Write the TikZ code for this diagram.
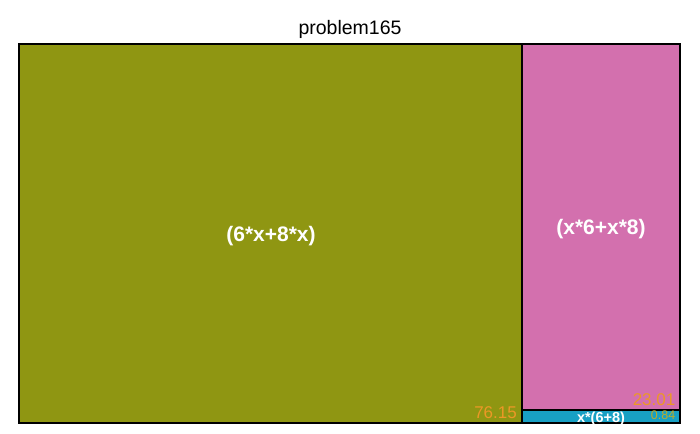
\documentclass[tikz,border=0pt]{standalone}
\usepackage{fontspec}
\setmainfont{Liberation Sans}
\usepackage{xcolor}
\definecolor{tmolive}{RGB}{143,150,18}
\definecolor{tmpink}{RGB}{211,112,174}
\definecolor{tmblue}{RGB}{24,160,196}
\definecolor{tmorange}{RGB}{236,152,38}
\definecolor{tmyellow}{RGB}{190,172,40}
\usepackage{tikz}
\usetikzlibrary{positioning}

\begin{document}
\begin{tikzpicture}[x=1pt, y=-1pt,
  cell/.style={draw=black, line width=2.4pt},
  cellname/.style={text=white, font=\fontsize{21}{23}\selectfont\bfseries},
  cellval/.style={text=tmorange, font=\fontsize{17}{19}\selectfont, inner sep=0pt, anchor=base east}]

\useasboundingbox[fill=white] (0,0) rectangle (700,433);

% --- Title ---
\node[font=\fontsize{19.5}{21}\selectfont] (title) at (350,29) {problem165};

% --- Cells ---
\draw[cell, fill=tmolive] (19,44) rectangle (522,423);
\draw[cell, fill=tmpink] (522,44) rectangle (680,410);
\draw[cell, fill=tmblue] (522,410) rectangle (680,423);

% Cell labels
\node[cellname] (olive) at (271,236) {(6*x+8*x)};
\node[cellname] (pink) at (601,229) {(x*6+x*8)};
\node[cellname, font=\fontsize{14.5}{16}\selectfont\bfseries, inner sep=0pt, anchor=base]
     (blue) at (601,422) {x*(6+8)};

% Cell values
\node[cellval] (oliveval) at (517,418.5) {76.15};
\node[cellval] (pinkval) at (675.5,405) {23.01};
\node[cellval, text=tmyellow, font=\fontsize{12.5}{14}\selectfont] (blueval) at (675.5,419) {0.84};

\end{tikzpicture}
\end{document}
